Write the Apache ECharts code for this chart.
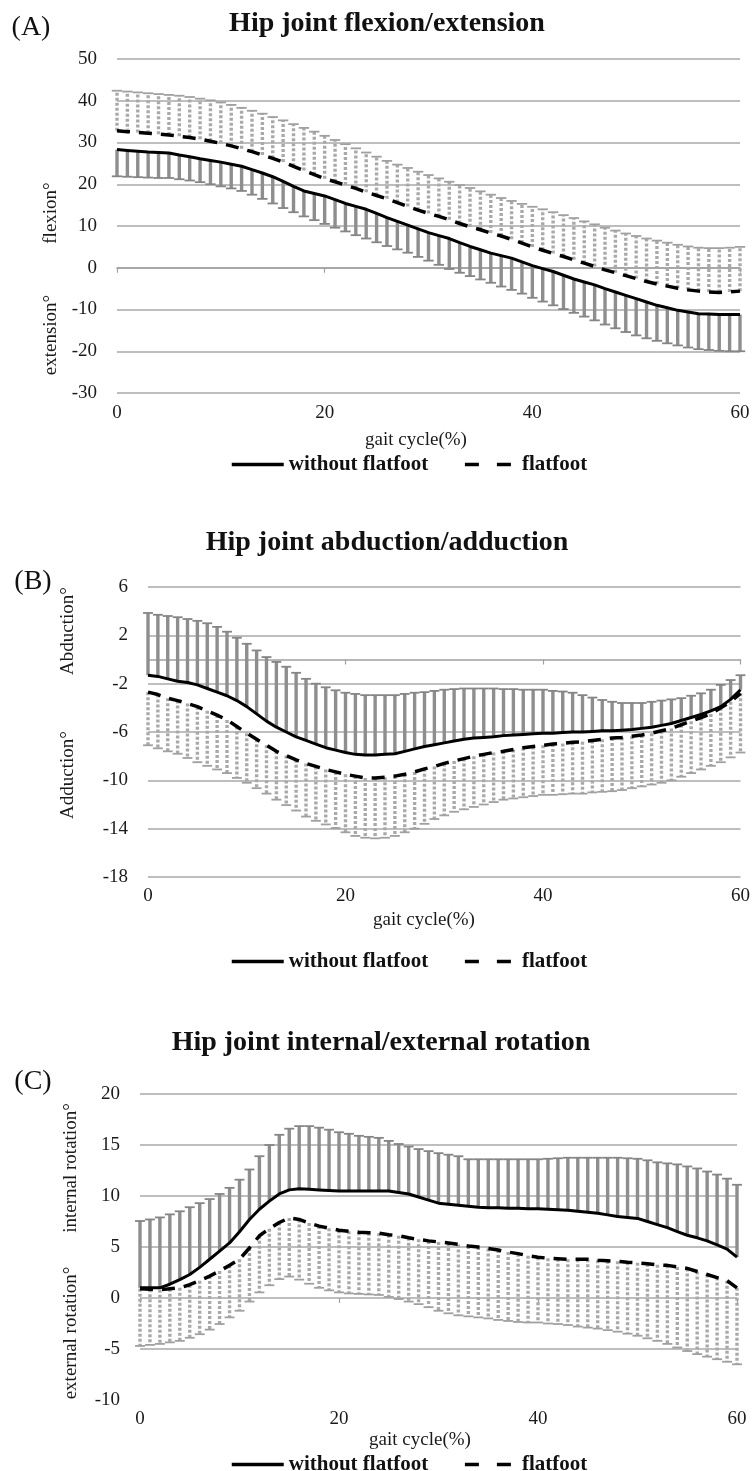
<!DOCTYPE html>
<html><head><meta charset="utf-8">
<script src="https://cdn.jsdelivr.net/npm/echarts@6/dist/echarts.min.js"></script>
<style>html,body{margin:0;padding:0;background:#fff}#c{width:753px;height:1471px}</style>
</head><body><div id="c"></div>
<script>
// ---------- shared x categories (gait cycle %) ----------
const gaitCycle = [0,1,2,3,4,5,6,7,8,9,10,11,12,13,14,15,16,17,18,19,20,21,22,23,24,25,26,27,28,29,30,31,32,33,34,35,36,37,38,39,40,41,42,43,44,45,46,47,48,49,50,51,52,53,54,55,56,57,58,59,60];
const xTicks = [0,20,40,60];
const seriesNames = ['without flatfoot','flatfoot'];

// ---------- (A) Hip joint flexion/extension ----------
const yTicksA = [-30,-20,-10,0,10,20,30,40,50];
const flexNoFlatMean = [28.3,28.1,27.9,27.7,27.6,27.5,27.0,26.6,26.1,25.7,25.3,24.8,24.3,23.5,22.7,21.8,20.7,19.5,18.4,17.8,17.2,16.3,15.4,14.7,14.0,13.0,12.0,11.1,10.2,9.3,8.4,7.7,7.0,6.0,5.1,4.3,3.5,2.9,2.3,1.4,0.5,-0.2,-0.9,-1.8,-2.7,-3.4,-4.1,-5.0,-5.8,-6.6,-7.4,-8.2,-9.0,-9.6,-10.2,-10.6,-11.0,-11.1,-11.2,-11.2,-11.2];
const flexNoFlatLower = [21.9,21.8,21.7,21.6,21.5,21.5,21.2,20.9,20.5,20.0,19.5,19.0,18.4,17.5,16.5,15.4,14.3,13.3,12.3,11.4,10.5,9.6,8.7,7.8,7.0,6.1,5.2,4.4,3.6,2.6,1.7,0.7,-0.3,-1.2,-2.0,-2.8,-3.6,-4.5,-5.3,-6.2,-7.2,-8.1,-9.0,-9.9,-10.8,-11.7,-12.6,-13.6,-14.5,-15.4,-16.2,-16.9,-17.5,-18.1,-18.6,-19.1,-19.5,-19.7,-19.9,-20.0,-20.0];
const flexFlatMean = [32.8,32.6,32.4,32.2,32.0,31.8,31.5,31.2,30.8,30.3,29.8,29.2,28.5,27.8,27.0,26.2,25.3,24.3,23.3,22.3,21.3,20.6,19.8,19.0,18.1,17.3,16.5,15.6,14.7,13.8,13.0,12.3,11.5,10.6,9.8,9.1,8.3,7.6,6.8,5.9,5.0,4.2,3.4,2.7,1.9,1.1,0.3,-0.5,-1.2,-1.9,-2.6,-3.3,-3.9,-4.4,-4.9,-5.3,-5.6,-5.8,-5.9,-5.8,-5.6];
const flexFlatUpper = [42.4,42.2,42.0,41.8,41.6,41.4,41.2,40.9,40.5,40.1,39.6,39.0,38.3,37.6,36.9,36.1,35.3,34.4,33.5,32.6,31.6,30.6,29.6,28.6,27.6,26.6,25.6,24.7,23.9,23.0,22.2,21.4,20.6,19.8,19.1,18.3,17.5,16.7,16.0,15.3,14.6,14.0,13.3,12.6,11.9,11.1,10.4,9.6,8.9,8.2,7.6,7.0,6.5,6.0,5.5,5.1,4.8,4.7,4.7,4.8,5.0];

// ---------- (B) Hip joint abduction/adduction ----------
const yTicksB = [-18,-14,-10,-6,-2,2,6];
const abdNoFlatMean = [-1.3,-1.4,-1.6,-1.8,-1.9,-2.1,-2.4,-2.7,-3.0,-3.4,-3.9,-4.5,-5.1,-5.6,-6.0,-6.4,-6.7,-7.0,-7.3,-7.5,-7.7,-7.85,-7.9,-7.9,-7.85,-7.8,-7.6,-7.4,-7.2,-7.05,-6.9,-6.75,-6.6,-6.5,-6.45,-6.4,-6.3,-6.25,-6.2,-6.15,-6.1,-6.1,-6.05,-6.0,-6.0,-5.95,-5.9,-5.9,-5.85,-5.8,-5.7,-5.6,-5.45,-5.3,-5.05,-4.8,-4.55,-4.25,-3.9,-3.3,-2.5];
const abdNoFlatUpper = [3.85,3.7,3.6,3.5,3.35,3.2,3.0,2.7,2.3,1.8,1.3,0.75,0.2,-0.2,-0.6,-1.1,-1.6,-2.0,-2.3,-2.55,-2.75,-2.85,-2.95,-2.95,-2.95,-2.95,-2.85,-2.75,-2.7,-2.6,-2.5,-2.45,-2.4,-2.4,-2.4,-2.4,-2.45,-2.45,-2.5,-2.5,-2.5,-2.6,-2.65,-2.75,-2.95,-3.15,-3.35,-3.5,-3.6,-3.6,-3.6,-3.5,-3.4,-3.3,-3.2,-3.0,-2.8,-2.5,-2.1,-1.7,-1.3];
const abdFlatMean = [-2.7,-2.9,-3.2,-3.4,-3.65,-3.9,-4.25,-4.6,-5.0,-5.55,-6.1,-6.6,-7.1,-7.6,-7.95,-8.3,-8.6,-8.85,-9.1,-9.3,-9.5,-9.65,-9.8,-9.8,-9.75,-9.65,-9.5,-9.3,-9.05,-8.85,-8.6,-8.4,-8.2,-8.0,-7.85,-7.7,-7.6,-7.45,-7.3,-7.2,-7.1,-7.0,-6.95,-6.85,-6.8,-6.7,-6.6,-6.5,-6.45,-6.35,-6.25,-6.1,-5.9,-5.7,-5.4,-5.1,-4.8,-4.5,-4.0,-3.5,-2.8];
const abdFlatLower = [-7.1,-7.35,-7.6,-7.8,-8.15,-8.5,-8.8,-9.1,-9.4,-9.8,-10.2,-10.65,-11.1,-11.6,-12.05,-12.5,-13.0,-13.35,-13.65,-13.95,-14.3,-14.6,-14.75,-14.8,-14.75,-14.6,-14.3,-14.0,-13.6,-13.2,-12.9,-12.6,-12.4,-12.2,-12.0,-11.8,-11.6,-11.5,-11.4,-11.3,-11.2,-11.2,-11.15,-11.1,-11.1,-11.0,-10.95,-10.9,-10.8,-10.65,-10.5,-10.35,-10.2,-10.0,-9.7,-9.4,-9.1,-8.8,-8.5,-8.1,-7.7];

// ---------- (C) Hip joint internal/external rotation ----------
const yTicksC = [-10,-5,0,5,10,15,20];
const rotNoFlatMean = [1.0,1.0,1.0,1.35,1.8,2.3,3.0,3.8,4.6,5.4,6.5,7.7,8.7,9.5,10.2,10.6,10.7,10.65,10.6,10.55,10.5,10.5,10.5,10.5,10.5,10.5,10.35,10.2,9.9,9.6,9.3,9.2,9.1,9.0,8.9,8.85,8.85,8.8,8.8,8.75,8.75,8.7,8.65,8.6,8.5,8.4,8.3,8.15,8.0,7.9,7.8,7.5,7.2,6.9,6.5,6.15,5.9,5.6,5.2,4.8,4.0];
const rotNoFlatUpper = [7.55,7.7,7.9,8.2,8.5,8.9,9.3,9.7,10.2,10.8,11.6,12.6,13.9,15.0,16.0,16.6,16.85,16.85,16.7,16.5,16.25,16.1,15.9,15.8,15.7,15.4,15.1,14.85,14.6,14.4,14.2,14.05,13.9,13.6,13.6,13.6,13.6,13.6,13.6,13.6,13.6,13.65,13.7,13.75,13.75,13.75,13.75,13.75,13.75,13.7,13.65,13.5,13.3,13.2,13.1,12.9,12.7,12.4,12.1,11.7,11.1];
const rotFlatMean = [0.9,0.85,0.8,0.9,1.0,1.3,1.7,2.15,2.65,3.2,3.8,4.9,6.1,6.8,7.4,7.85,7.7,7.35,7.05,6.85,6.65,6.55,6.45,6.4,6.35,6.2,6.1,5.9,5.75,5.6,5.5,5.4,5.25,5.1,5.0,4.85,4.7,4.5,4.35,4.15,4.0,3.9,3.85,3.8,3.8,3.8,3.7,3.65,3.6,3.5,3.45,3.35,3.25,3.2,3.05,2.9,2.6,2.3,2.0,1.7,1.0];
const rotFlatLower = [-4.7,-4.6,-4.5,-4.35,-4.2,-3.9,-3.55,-3.1,-2.55,-1.9,-1.25,-0.35,0.55,1.25,1.85,2.1,1.8,1.4,1.0,0.75,0.55,0.45,0.4,0.35,0.3,0.1,-0.1,-0.35,-0.6,-0.9,-1.25,-1.5,-1.7,-1.8,-1.9,-2.0,-2.15,-2.25,-2.35,-2.4,-2.4,-2.5,-2.55,-2.65,-2.8,-2.9,-3.0,-3.15,-3.3,-3.5,-3.7,-3.95,-4.2,-4.5,-4.85,-5.2,-5.5,-5.75,-6.0,-6.25,-6.5];

// ---------- panel text ----------
const titles = ['Hip joint flexion/extension','Hip joint abduction/adduction','Hip joint internal/external rotation'];
const panelTags = ['(A)','(B)','(C)'];
const yNames = [['flexion°','extension°'],['Abduction°','Adduction°'],['internal rotation°','external rotation°']];
const xName = 'gait cycle(%)';

// ---------- layout (not data) ----------
const SERIF = '"Liberation Serif","Times New Roman",serif';
const TXT = '#1a1a1a';
const layout = [
  {grid:{left:117,top:59,width:623,height:334}, title:[387,24], tag:[31,28], yn:[[51,213],[51,335]], xn:[416,440], legTop:449, labMargin:11, axisLine:true},
  {grid:{left:148,top:587,width:598,height:290}, title:[387,543], tag:[33,582], yn:[[68,631],[68,775]], xn:[424,920], legTop:946, labMargin:10, axisLine:true},
  {grid:{left:140,top:1094,width:597,height:306}, title:[381,1043], tag:[33,1082], yn:[[71,1168],[71,1333]], xn:[420,1440], legTop:1449, labMargin:10, axisLine:false}
];

const panels = [
  {yTicks:yTicksA, solidMean:flexNoFlatMean, solidBound:flexNoFlatLower, dashMean:flexFlatMean, dashBound:flexFlatUpper},
  {yTicks:yTicksB, solidMean:abdNoFlatMean, solidBound:abdNoFlatUpper, dashMean:abdFlatMean, dashBound:abdFlatLower},
  {yTicks:yTicksC, solidMean:rotNoFlatMean, solidBound:rotNoFlatUpper, dashMean:rotFlatMean, dashBound:rotFlatLower}
];

function pairs(ys){ return gaitCycle.map((x,i)=>[x, ys[i]]); }
function triples(ms, bs){ return gaitCycle.map((x,i)=>[x, ms[i], bs[i]]); }

function sdRender(dashed, color, capColor, w){
  return function(params, api){
    const x = api.value(0), m = api.value(1), b = api.value(2);
    const p0 = api.coord([x, m]), p1 = api.coord([x, b]);
    const pNext = api.coord([x + 1, b]);
    const capW = Math.abs(pNext[0] - p0[0]);
    return {type:'group', children:[
      {type:'line', shape:{x1:p0[0], y1:p0[1], x2:p1[0], y2:p1[1]},
       style:{stroke:color, lineWidth:w, lineDash: dashed ? [3,2] : null}},
      {type:'line', shape:{x1:p1[0]-capW/2, y1:p1[1], x2:p1[0]+capW/2, y2:p1[1]},
       style:{stroke:capColor, lineWidth:1.8}}
    ]};
  };
}

const grid=[], xAxis=[], yAxis=[], series=[], legend=[], graphic=[];
panels.forEach((p, k) => {
  const L = layout[k];
  grid.push(L.grid);
  const yt = p.yTicks;
  const splitColors = yt.map((v, i) => (i===0 && !L.axisLine) ? 'rgba(0,0,0,0)' : '#a8a8a8');
  xAxis.push({gridIndex:k, type:'value', min:xTicks[0], max:xTicks[xTicks.length-1], interval:xTicks[1]-xTicks[0],
    axisLine:{show:L.axisLine, lineStyle:{color:'#a0a0a0', width:1.5}},
    axisTick:{show:true, length:5, inside:false, lineStyle:{color:'#a0a0a0', width:1.2}},
    splitLine:{show:false},
    axisLabel:{margin:L.labMargin, fontFamily:SERIF, fontSize:19, color:TXT}
  });
  yAxis.push({gridIndex:k, type:'value', min:yt[0], max:yt[yt.length-1], interval:yt[1]-yt[0],
    axisLine:{show:false}, axisTick:{show:false},
    splitLine:{show:true, lineStyle:{color:splitColors, width:1.5}},
    axisLabel:{margin:20, fontFamily:SERIF, fontSize:19, color:TXT}
  });
  series.push({name:'without flatfoot SD', type:'custom', xAxisIndex:k, yAxisIndex:k, z:2,
    data:triples(p.solidMean, p.solidBound), encode:{x:0, y:[1,2]}, renderItem:sdRender(false,'#8e8e8e','#858585',3.4), silent:true});
  series.push({name:'flatfoot SD', type:'custom', xAxisIndex:k, yAxisIndex:k, z:2,
    data:triples(p.dashMean, p.dashBound), encode:{x:0, y:[1,2]}, renderItem:sdRender(true,'#a9a9a9','#a0a0a0',3.4), silent:true});
  series.push({name:seriesNames[0], type:'line', xAxisIndex:k, yAxisIndex:k, z:4, symbol:'none', smooth:false,
    data:pairs(p.solidMean), lineStyle:{color:'#000', width:3}, itemStyle:{color:'#000'}});
  series.push({name:seriesNames[1], type:'line', xAxisIndex:k, yAxisIndex:k, z:4, symbol:'none', smooth:false,
    data:pairs(p.dashMean), lineStyle:{color:'#000', width:3.5, type:[13,9]}, itemStyle:{color:'#000'}});
  legend.push({left:225, top:L.legTop, itemWidth:52, itemHeight:14, itemGap:35, itemTextGap:5, selectedMode:false,
    data:[{name:seriesNames[0]}, {name:seriesNames[1], lineStyle:{type:[14,18]}}],
    itemStyle:{opacity:0},
    lineStyle:{width:3.5},
    textStyle:{fontFamily:SERIF, fontWeight:'bold', fontSize:21, color:'#111'}});
  graphic.push({type:'text', x:L.title[0], y:L.title[1], silent:true,
    style:{text:titles[k], font:'bold 28px '+SERIF, fill:'#111', align:'center', verticalAlign:'middle'}});
  graphic.push({type:'text', x:L.tag[0], y:L.tag[1], silent:true,
    style:{text:panelTags[k], font:'28px '+SERIF, fill:'#111', align:'center', verticalAlign:'middle'}});
  yNames[k].forEach((nm, j) => {
    graphic.push({type:'text', x:L.yn[j][0], y:L.yn[j][1], rotation:Math.PI/2, silent:true,
      style:{text:nm, font:'19px '+SERIF, fill:TXT, align:'center', verticalAlign:'middle'}});
  });
  graphic.push({type:'text', x:L.xn[0], y:L.xn[1], silent:true,
    style:{text:xName, font:'19px '+SERIF, fill:TXT, align:'center', verticalAlign:'middle'}});
});

const chart = echarts.init(document.getElementById('c'), null, {renderer:'canvas'});
chart.setOption({animation:false, backgroundColor:'#fff', grid, xAxis, yAxis, series, legend, graphic});
</script></body></html>
